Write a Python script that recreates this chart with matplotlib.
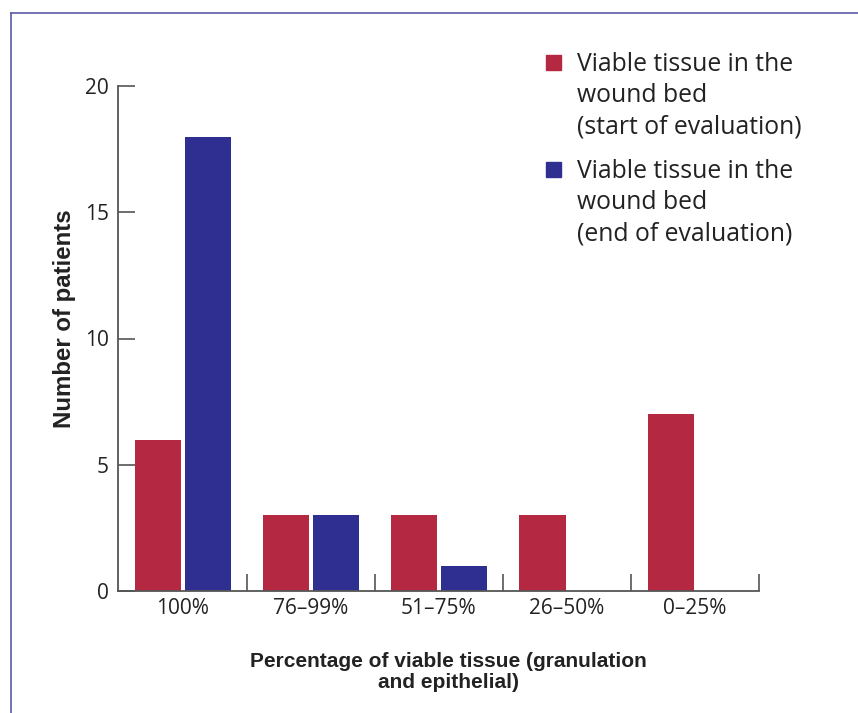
import numpy as np
import matplotlib
matplotlib.use('Agg')
import matplotlib.pyplot as plt
from matplotlib.patches import Rectangle
from matplotlib.lines import Line2D

categories = ['100%', '76–99%', '51–75%', '26–50%', '0–25%']
start_eval = [6, 3, 3, 3, 7]
end_eval = [18, 3, 1, 0, 0]
labels = ['Viable tissue in the\nwound bed\n(start of evaluation)',
          'Viable tissue in the\nwound bed\n(end of evaluation)']
colors = ['#B52842', '#2E2F91']

plt.rcParams['font.family'] = ['Open Sans', 'DejaVu Sans']
bold_font = ['Liberation Sans', 'DejaVu Sans']
txt_col = '#222222'
ax_col = '#555555'

W, H = 858, 713
fig = plt.figure(figsize=(W / 100, H / 100), dpi=100)
ax = fig.add_axes([118.5 / W, 1 - 591 / H, (759 - 118.5) / W, (591 - 86) / H])

x = np.arange(len(categories))
ax.bar(x + 0.31, start_eval, width=0.36, color=colors[0], zorder=2)
ax.bar(x + 0.70, end_eval, width=0.36, color=colors[1], zorder=2)

ax.set_xlim(0, len(categories))
ax.set_ylim(0, 20)

# spines
for s in ['top', 'right']:
    ax.spines[s].set_visible(False)
for s in ['left', 'bottom']:
    ax.spines[s].set_color(ax_col)
    ax.spines[s].set_linewidth(1.3)

# y ticks
ax.set_yticks([0, 5, 10, 15, 20])
ax.tick_params(axis='y', direction='in', length=12, width=1.2, color=ax_col,
               labelsize=15, labelcolor=txt_col, pad=7)
# x ticks: labels at centres, tick marks at the group edges
ax.set_xticks(x + 0.5)
ax.set_xticklabels(categories)
ax.set_xticks(np.arange(1, len(categories) + 1), minor=True)
ax.tick_params(axis='x', which='major', length=0, labelsize=15,
               labelcolor=txt_col, pad=5)
ax.tick_params(axis='x', which='minor', direction='in', length=12,
               width=1.2, color=ax_col)

# axis titles
fig.text(448 / W, 1 - 672 / H, 'Percentage of viable tissue (granulation\nand epithelial)',
         ha='center', va='center', fontsize=15, fontweight='bold',
         family=bold_font, color=txt_col, linespacing=1.12)
fig.text(64 / W, 1 - 319 / H, 'Number of patients', rotation=90,
         ha='center', va='center', fontsize=17.3, fontweight='bold',
         family=bold_font, color=txt_col)

# legend drawn by hand so the square sits at the first line
leg_y = [63, 170]
for lab, col, yy in zip(labels, colors, leg_y):
    fig.patches.append(Rectangle((546 / W, 1 - (yy + 7) / H), 15 / W, 15 / H,
                                 transform=fig.transFigure, color=col))
    fig.text(577 / W, 1 - (yy - 11) / H, lab, ha='left', va='top',
             fontsize=17.8, color=txt_col, linespacing=1.34)

# frame lines (top and left)
border = '#5A5AAA'
fig.add_artist(Line2D([11 / W, 1], [1 - 13 / H, 1 - 13 / H], color=border, lw=1.2,
                      transform=fig.transFigure))
fig.add_artist(Line2D([11 / W, 11 / W], [0, 1 - 13 / H], color=border, lw=1.2,
                      transform=fig.transFigure))

fig.savefig('out.png', dpi=100)
